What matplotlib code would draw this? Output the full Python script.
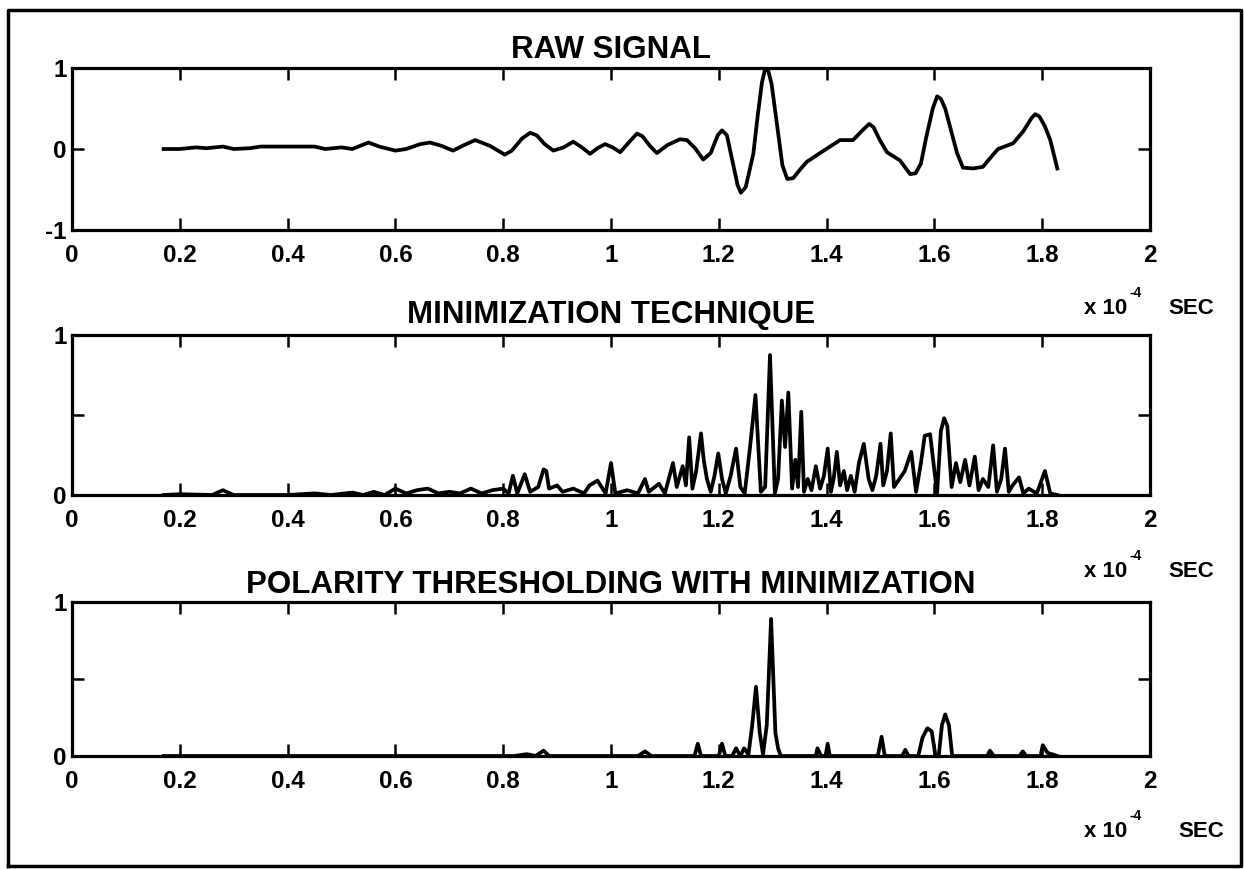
import numpy as np
import matplotlib.pyplot as plt
from matplotlib.lines import Line2D

plt.rcParams['font.family'] = ['Liberation Sans', 'DejaVu Sans']
plt.rcParams['font.weight'] = 'bold'

titles = ['RAW SIGNAL', 'MINIMIZATION TECHNIQUE', 'POLARITY THRESHOLDING WITH MINIMIZATION']
xticks = [0, 0.2, 0.4, 0.6, 0.8, 1, 1.2, 1.4, 1.6, 1.8, 2]
xticklabels = ['0', '0.2', '0.4', '0.6', '0.8', '1', '1.2', '1.4', '1.6', '1.8', '2']

# raw signal (x in units of 1e-4 s)
raw_x = [0.17, 0.20, 0.23, 0.25, 0.28, 0.30, 0.33, 0.35, 0.40, 0.45, 0.47, 0.50, 0.52, 0.55,
         0.57, 0.60, 0.62, 0.646, 0.664, 0.685, 0.707, 0.728, 0.748, 0.775, 0.803, 0.816,
         0.835, 0.850, 0.862, 0.877, 0.893, 0.912, 0.930, 0.946, 0.961, 0.975, 0.989, 1.003,
         1.017, 1.033, 1.048, 1.058, 1.072, 1.085, 1.105, 1.128, 1.141, 1.156, 1.171, 1.185,
         1.198, 1.206, 1.215, 1.227, 1.235, 1.241, 1.250, 1.264, 1.272, 1.280, 1.286, 1.292,
         1.298, 1.305, 1.318, 1.327, 1.338, 1.350, 1.363, 1.39, 1.425, 1.449, 1.465, 1.479,
         1.487, 1.498, 1.512, 1.536, 1.555, 1.565, 1.575, 1.585, 1.597, 1.605, 1.612, 1.620,
         1.630, 1.642, 1.653, 1.672, 1.690, 1.705, 1.718, 1.746, 1.765, 1.780, 1.787, 1.795,
         1.805, 1.815, 1.828]
raw_y = [0.0, 0.0, 0.02, 0.01, 0.03, 0.0, 0.01, 0.03, 0.03, 0.03, 0.0, 0.02, 0.0, 0.08,
         0.03, -0.02, 0.0, 0.06, 0.08, 0.04, -0.02, 0.05, 0.11, 0.04, -0.07, -0.02,
         0.13, 0.20, 0.17, 0.06, -0.02, 0.02, 0.09, 0.02, -0.06, 0.01, 0.06, 0.02,
         -0.04, 0.08, 0.19, 0.16, 0.04, -0.05, 0.05, 0.12, 0.11, 0.01, -0.13, -0.05,
         0.17, 0.23, 0.17, -0.20, -0.45, -0.54, -0.47, -0.06, 0.40, 0.82, 0.99, 0.96,
         0.80, 0.45, -0.20, -0.37, -0.36, -0.26, -0.16, -0.04, 0.11, 0.11, 0.22, 0.31,
         0.27, 0.12, -0.04, -0.14, -0.31, -0.30, -0.18, 0.15, 0.50, 0.65, 0.62, 0.50,
         0.25, -0.05, -0.23, -0.24, -0.22, -0.10, 0.0, 0.07, 0.22, 0.38, 0.43, 0.40,
         0.28, 0.11, -0.24]

# minimization technique output
min_x = [0.17, 0.20, 0.26, 0.28, 0.30, 0.40, 0.45, 0.48, 0.52, 0.54, 0.56, 0.58, 0.60, 0.62,
         0.64, 0.66, 0.68, 0.70, 0.72, 0.74, 0.76, 0.78, 0.80, 0.81, 0.818, 0.826, 0.84, 0.85,
         0.865, 0.875, 0.88, 0.885, 0.90, 0.91, 0.93, 0.95, 0.96, 0.975, 0.99, 1.0, 1.008,
         1.03, 1.05, 1.063, 1.07, 1.089, 1.10, 1.115, 1.122, 1.133, 1.139, 1.145, 1.151,
         1.158, 1.167, 1.172, 1.178, 1.185, 1.192, 1.199, 1.206, 1.213, 1.222, 1.232, 1.240,
         1.248, 1.258, 1.268, 1.278, 1.286, 1.295, 1.304, 1.31, 1.317, 1.323, 1.329, 1.336,
         1.342, 1.347, 1.353, 1.358, 1.365, 1.372, 1.38, 1.388, 1.395, 1.402, 1.408, 1.413,
         1.419, 1.425, 1.432, 1.438, 1.445, 1.452, 1.460, 1.469, 1.478, 1.485, 1.492, 1.50,
         1.505, 1.512, 1.519, 1.525, 1.535, 1.545, 1.557, 1.566, 1.575, 1.582, 1.592, 1.60,
         1.605, 1.612, 1.618, 1.624, 1.632, 1.640, 1.648, 1.657, 1.665, 1.675, 1.682, 1.690,
         1.700, 1.709, 1.716, 1.724, 1.731, 1.738, 1.745, 1.757, 1.765, 1.775, 1.790, 1.805,
         1.815, 1.828]
min_y = [0.0, 0.005, 0.0, 0.03, 0.0, 0.0, 0.01, 0.0, 0.015, 0.0, 0.02, 0.0, 0.04, 0.01,
         0.03, 0.04, 0.01, 0.02, 0.01, 0.04, 0.01, 0.03, 0.04, 0.01, 0.12, 0.01, 0.13, 0.02,
         0.05, 0.16, 0.15, 0.04, 0.06, 0.02, 0.04, 0.01, 0.06, 0.09, 0.01, 0.20, 0.01,
         0.03, 0.01, 0.10, 0.02, 0.07, 0.01, 0.20, 0.05, 0.18, 0.06, 0.36, 0.04,
         0.15, 0.385, 0.22, 0.10, 0.02, 0.12, 0.26, 0.10, 0.01, 0.12, 0.29, 0.05,
         0.01, 0.30, 0.625, 0.02, 0.05, 0.875, 0.01, 0.10, 0.59, 0.30, 0.64, 0.04,
         0.22, 0.05, 0.52, 0.02, 0.10, 0.03, 0.18, 0.04, 0.12, 0.29, 0.02, 0.10,
         0.27, 0.06, 0.15, 0.03, 0.12, 0.02, 0.20, 0.32, 0.10, 0.03, 0.12, 0.32,
         0.06, 0.15, 0.385, 0.05, 0.10, 0.15, 0.27, 0.02, 0.20, 0.37, 0.38, 0.15,
         0.01, 0.40, 0.48, 0.43, 0.05, 0.20, 0.08, 0.22, 0.06, 0.24, 0.03, 0.10,
         0.05, 0.31, 0.02, 0.10, 0.29, 0.02, 0.06, 0.11, 0.01, 0.04, 0.01, 0.15,
         0.01, 0.0]

# polarity thresholding with minimization
pol_x = [0.17, 0.82, 0.844, 0.86, 0.875, 0.885, 1.05, 1.063, 1.075, 1.155, 1.161, 1.167,
         1.20, 1.206, 1.212, 1.225, 1.232, 1.24, 1.247, 1.255, 1.262, 1.269, 1.276, 1.282,
         1.289, 1.297, 1.305, 1.31, 1.315, 1.38, 1.383, 1.39, 1.398, 1.402, 1.406, 1.495,
         1.502, 1.508, 1.54, 1.546, 1.552, 1.57, 1.578, 1.587, 1.595, 1.602, 1.608, 1.614,
         1.62, 1.627, 1.633, 1.698, 1.703, 1.71, 1.758, 1.764, 1.77, 1.797, 1.801, 1.81,
         1.82, 1.828]
pol_y = [0.0, 0.0, 0.012, 0.0, 0.035, 0.0, 0.0, 0.03, 0.0, 0.0, 0.08, 0.0,
         0.0, 0.08, 0.0, 0.0, 0.05, 0.0, 0.05, 0.01, 0.2, 0.45, 0.15, 0.01,
         0.2, 0.89, 0.15, 0.05, 0.0, 0.0, 0.05, 0.0, 0.0, 0.08, 0.0, 0.0,
         0.125, 0.0, 0.0, 0.04, 0.0, 0.0, 0.12, 0.18, 0.16, 0.0, 0.0, 0.2,
         0.27, 0.2, 0.0, 0.0, 0.035, 0.0, 0.0, 0.03, 0.0, 0.0, 0.07, 0.02,
         0.01, 0.0]

W, H = 1244, 869
fig = plt.figure(figsize=(W / 100, H / 100), dpi=100)


def box(top, bottom, left=72, right=1150):
    return [left / W, 1 - bottom / H, (right - left) / W, (bottom - top) / H]


def style(ax, yticks, ylabels, ylim):
    ax.set_xlim(0, 2)
    ax.set_ylim(*ylim)
    ax.set_xticks(xticks)
    ax.set_xticklabels(xticklabels)
    ax.set_yticks(yticks)
    ax.set_yticklabels(ylabels)
    ax.tick_params(direction='in', top=True, right=True, length=8.5, width=1.8,
                   labelsize=17.5, color='black')
    ax.tick_params(axis='x', pad=10)
    ax.tick_params(axis='y', pad=4)
    for s in ax.spines.values():
        s.set_linewidth(2.3)
    for lab in ax.get_xticklabels() + ax.get_yticklabels():
        lab.set_fontweight('bold')


panels = [(68, 230), (335, 495), (602, 756)]
data = [(raw_x, raw_y), (min_x, min_y), (pol_x, pol_y)]
title_base = [58, 323, 593]
unit_base = [314, 577, 837]
sec_left = [1168, 1168, 1178]

for i in range(3):
    ax = fig.add_axes(box(*panels[i]))
    ax.plot(data[i][0], data[i][1], color='black', lw=2.7, solid_joinstyle='round')
    if i == 0:
        style(ax, [-1, 0, 1], ['-1', '0', '1'], (-1, 1))
    else:
        style(ax, [0, 0.5, 1], ['0', '', '1'], (0, 1))
    fig.text(611 / W, 1 - title_base[i] / H, titles[i], ha='center', va='baseline',
             fontsize=22.5, fontweight='bold')
    fig.text(1084 / W, 1 - unit_base[i] / H, 'x 10', ha='left', va='baseline',
             fontsize=16, fontweight='bold')
    fig.text(1130 / W, 1 - (unit_base[i] - 17) / H, '-4', ha='left', va='baseline',
             fontsize=10, fontweight='bold')
    fig.text(sec_left[i] / W, 1 - unit_base[i] / H, 'SEC', ha='left', va='baseline',
             fontsize=16, fontweight='bold')

# outer frame
fx = [8 / W, 8 / W, 1241 / W, 1241 / W, 8 / W]
fy = [1 - 866 / H, 1 - 10 / H, 1 - 10 / H, 1 - 866 / H, 1 - 866 / H]
fig.add_artist(Line2D(fx, fy, color='black', lw=2.5, transform=fig.transFigure))

plt.savefig('out.png', dpi=100)
